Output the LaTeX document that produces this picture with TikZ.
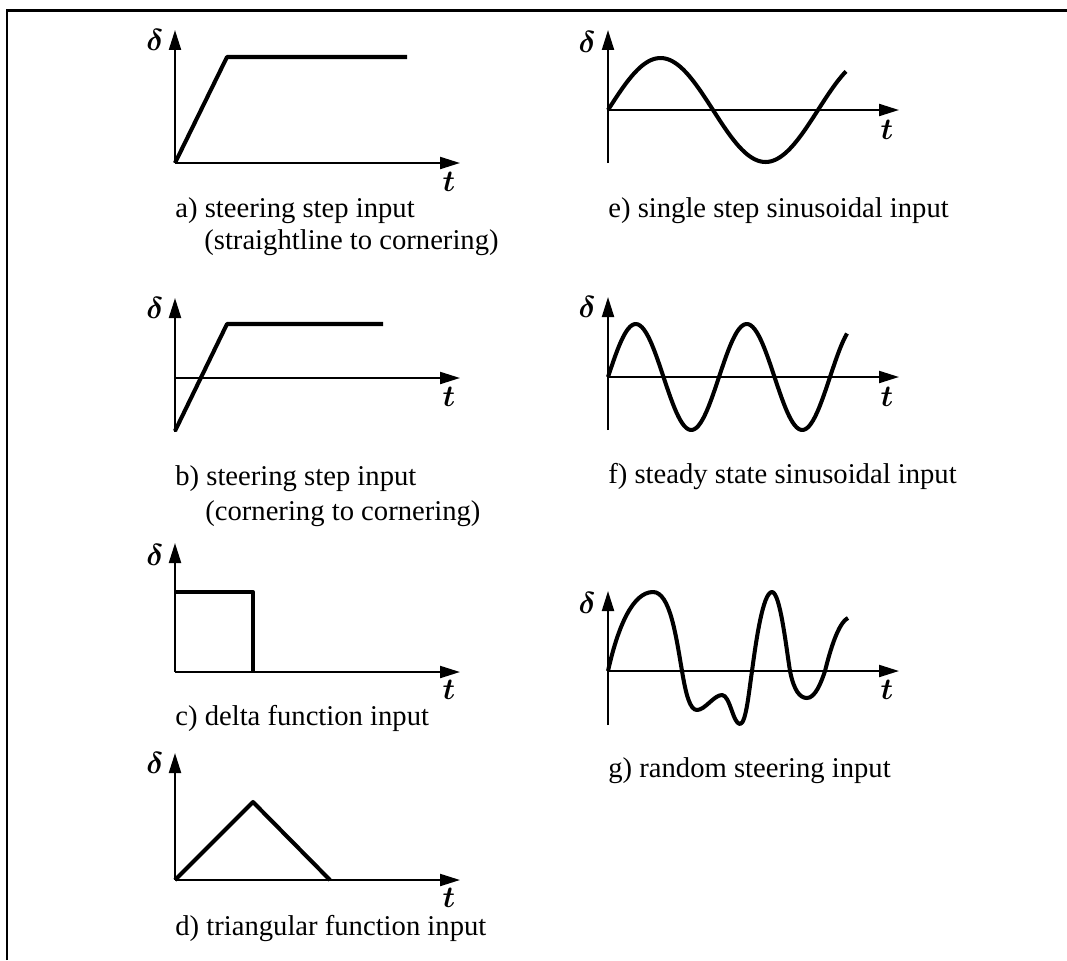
\documentclass[tikz,border=0pt]{standalone}
\usepackage{amsmath}
\usepackage{fontspec}
\setmainfont{Liberation Serif}
\usetikzlibrary{arrows.meta}

\begin{document}
\begin{tikzpicture}[x=0.02cm, y=0.02cm,
	axis/.style={line width=1.2pt, -{Triangle[length=0.4cm, width=0.24cm]}},
	graph/.style={line width=2.3pt, line join=round},
	caption/.style={anchor=base west, inner sep=0pt, font=\fontsize{16.3}{19}\selectfont},
	varlabel/.style={inner sep=0pt, font=\fontsize{17.5}{20}\selectfont}]
	\useasboundingbox (0,0) rectangle (1067,-960);
	% frame: only top and left edge
	\draw[line width=1.6pt] (7,-960) -- (7,-10.5) -- (1067,-10.5);
	% a) straightline to cornering
	\begin{scope}[shift={(175,-163)}]
		\coordinate (oA) at (0,0);
		\draw[axis] (oA) -- (285,0);
		\draw[axis] (oA) -- (0,133);
		\draw[graph] (oA) -- (52,106) -- (232,106);
		\node[varlabel] (dA) at (-20,123) {$\boldsymbol{\delta}$};
		\node[varlabel] (tA) at (274,-19) {$\boldsymbol{t}$};
		\node[caption] (capA) at (0,-54) {a) steering step input};
		\node[caption] (capAb) at (29,-86) {(straightline to cornering)};
	\end{scope}
	% b) cornering to cornering
	\begin{scope}[shift={(175,-378)}]
		\coordinate (oB) at (0,0);
		\draw[axis] (oB) -- (285,0);
		\draw[axis] (0,-54) -- (0,80);
		\draw[graph] (0,-53) -- (52,54) -- (208,54);
		\node[varlabel] (dB) at (-20,70) {$\boldsymbol{\delta}$};
		\node[varlabel] (tB) at (274,-19) {$\boldsymbol{t}$};
		\node[caption] (capB) at (0,-107) {b) steering step input};
		\node[caption] (capBb) at (30,-142) {(cornering to cornering)};
	\end{scope}
	% c) delta function
	\begin{scope}[shift={(175,-672)}]
		\coordinate (oC) at (0,0);
		\draw[axis] (oC) -- (285,0);
		\draw[axis] (oC) -- (0,129);
		\draw[graph] (0,80) -- (78,80) -- (78,0);
		\node[varlabel] (dC) at (-20,117) {$\boldsymbol{\delta}$};
		\node[varlabel] (tC) at (274,-18) {$\boldsymbol{t}$};
		\node[caption] (capC) at (0,-53) {c) delta function input};
	\end{scope}
	% d) triangular function
	\begin{scope}[shift={(175,-880)}]
		\coordinate (oD) at (0,0);
		\draw[axis] (oD) -- (285,0);
		\draw[axis] (oD) -- (0,127);
		\draw[graph] (oD) -- (78,78) -- (155,0);
		\node[varlabel] (dD) at (-20,117) {$\boldsymbol{\delta}$};
		\node[varlabel] (tD) at (274,-18) {$\boldsymbol{t}$};
		\node[caption] (capD) at (0,-55) {d) triangular function input};
	\end{scope}
	% e) one period of a sine
	\begin{scope}[shift={(608,-110)}]
		\coordinate (oE) at (0,0);
		\draw[axis] (oE) -- (291,0);
		\draw[axis] (0,-53) -- (0,80);
		\draw[graph] plot[domain=0:238, samples=90, smooth] (\x, {52*sin(\x/210*360)});
		\node[varlabel] (dE) at (-21,68) {$\boldsymbol{\delta}$};
		\node[varlabel] (tE) at (279,-20) {$\boldsymbol{t}$};
		\node[caption] (capE) at (0,-107) {e) single step sinusoidal input};
	\end{scope}
	% f) steady sine
	\begin{scope}[shift={(608,-377)}]
		\coordinate (oF) at (0,0);
		\draw[axis] (oF) -- (291,0);
		\draw[axis] (0,-53) -- (0,80);
		\draw[graph] plot[domain=0:239, samples=120, smooth] (\x, {53*sin(\x/111*360)});
		\node[varlabel] (dF) at (-21,70) {$\boldsymbol{\delta}$};
		\node[varlabel] (tF) at (279,-20) {$\boldsymbol{t}$};
		\node[caption] (capF) at (0,-106) {f) steady state sinusoidal input};
	\end{scope}
	% g) random input
	\begin{scope}[shift={(608,-671)}]
		\coordinate (oG) at (0,0);
		\draw[axis] (oG) -- (291,0);
		\draw[axis] (0,-54) -- (0,80);
		\draw[graph] (oG) .. controls (10,45) and (25,79) .. (45,79)
			.. controls (62,79) and (68,35) .. (74,0)
			.. controls (78,-24) and (82,-39) .. (89,-39)
			.. controls (97,-39) and (106,-24) .. (114,-24)
			.. controls (122,-24) and (125,-53) .. (132,-53)
			.. controls (138,-53) and (141,-20) .. (144,0)
			.. controls (148,30) and (155,79) .. (164,79)
			.. controls (172,79) and (178,25) .. (182,0)
			.. controls (186,-20) and (192,-27) .. (199,-27)
			.. controls (207,-27) and (213,-12) .. (217,0)
			.. controls (222,20) and (230,48) .. (240,53);
		\node[varlabel] (dG) at (-21,68) {$\boldsymbol{\delta}$};
		\node[varlabel] (tG) at (279,-19) {$\boldsymbol{t}$};
		\node[caption] (capG) at (0,-106) {g) random steering input};
	\end{scope}
\end{tikzpicture}
\end{document}
